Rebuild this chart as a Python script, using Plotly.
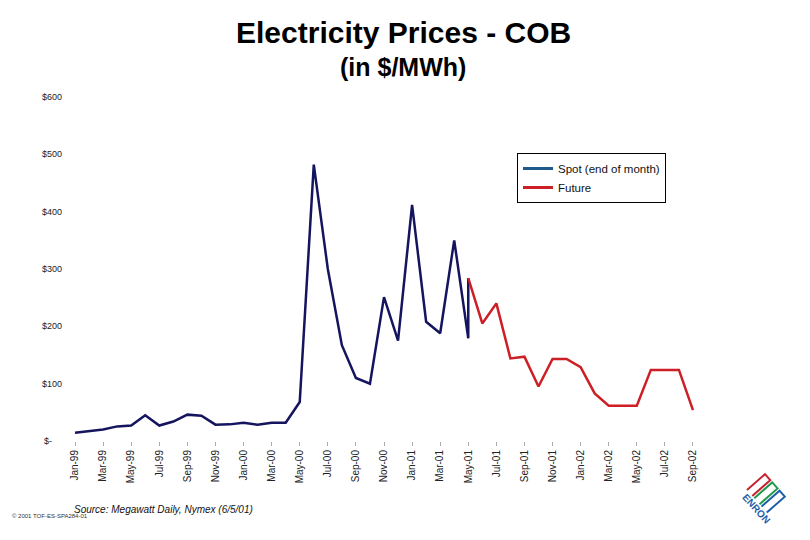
import plotly.graph_objects as go

# ---------------- data ----------------
months = ["Jan-99","Feb-99","Mar-99","Apr-99","May-99","Jun-99","Jul-99","Aug-99","Sep-99","Oct-99","Nov-99","Dec-99",
          "Jan-00","Feb-00","Mar-00","Apr-00","May-00","Jun-00","Jul-00","Aug-00","Sep-00","Oct-00","Nov-00","Dec-00",
          "Jan-01","Feb-01","Mar-01","Apr-01","May-01","Jun-01","Jul-01","Aug-01","Sep-01","Oct-01","Nov-01","Dec-01",
          "Jan-02","Feb-02","Mar-02","Apr-02","May-02","Jun-02","Jul-02","Aug-02","Sep-02"]

spot_months = months[:29] + ["May-01"]
spot_values = [14.5, 17, 20, 25.5, 27, 45, 27, 34, 46, 44, 28.5, 29,
               32, 28.5, 32, 32, 68, 482, 300, 167, 110, 100, 251, 175,
               412, 208, 188, 350, 179, 284]

future_months = months[28:]
future_values = [284, 205, 240, 144, 147, 95, 143, 143, 129, 83, 61.5, 61.5,
                 61.5, 124, 124, 124, 54]

y_tickvals = [0, 100, 200, 300, 400, 500, 600]
y_ticktext = ["$-\u00a0\u00a0\u00a0\u00a0", "$100", "$200", "$300", "$400", "$500", "$600"]
x_tickvals = months[::2]

SPOT_COLOR = "#14145f"
SPOT_LEGEND_COLOR = "#1f5a8c"
FUTURE_COLOR = "#cc1f26"
FONT = "Liberation Sans, Arial, sans-serif"

# ---------------- layout geometry ----------------
W, H = 810, 540
OFF = 8  # page body margin
# target plot area on the page: x 68..700, y 97..441
ML = 68 - OFF
MT = 97 - OFF
MR = W - (700 - OFF)
MB = H - (441 - OFF)
PW, PH = W - ML - MR, H - MT - MB

def px(x):
    return (x - OFF - ML) / PW

def py(y):
    return (H - MB - (y - OFF)) / PH

fig = go.Figure()

fig.add_trace(go.Scatter(x=spot_months, y=spot_values, mode="lines",
                         line=dict(color=SPOT_COLOR, width=2.5), showlegend=False,
                         hoverinfo="skip"))
fig.add_trace(go.Scatter(x=future_months, y=future_values, mode="lines",
                         line=dict(color=FUTURE_COLOR, width=2.5), showlegend=False,
                         hoverinfo="skip"))
# legend entries
fig.add_trace(go.Scatter(x=[None], y=[None], mode="lines", name="Spot (end of month)",
                         line=dict(color=SPOT_LEGEND_COLOR, width=3)))
fig.add_trace(go.Scatter(x=[None], y=[None], mode="lines", name="Future",
                         line=dict(color=FUTURE_COLOR, width=3)))

fig.update_layout(
    width=W, height=H,
    margin=dict(l=ML, r=MR, t=MT, b=MB, pad=0),
    paper_bgcolor="white", plot_bgcolor="white",
    font=dict(family=FONT, color="#111"),
    showlegend=True,
    legend=dict(x=px(517), y=py(153), xanchor="left", yanchor="top",
                bgcolor="white", bordercolor="black", borderwidth=1,
                font=dict(size=11.5, family=FONT, color="#111"),
                itemwidth=30, tracegroupgap=0),
    xaxis=dict(type="category", categoryorder="array", categoryarray=months,
               range=[-0.5, len(months) - 0.5],
               tickmode="array", tickvals=x_tickvals, ticktext=x_tickvals,
               tickangle=-90, tickfont=dict(size=10, family=FONT, color="#222"),
               ticks="outside", ticklen=4, tickcolor="#aaa",
               showgrid=False, showline=False, zeroline=False, fixedrange=True),
    yaxis=dict(range=[0, 600], tickmode="array", tickvals=y_tickvals, ticktext=y_ticktext,
               tickfont=dict(size=9, family=FONT, color="#222"),
               ticklabelstandoff=5,
               showgrid=False, showline=False, zeroline=False, fixedrange=True),
)

annotations = [
    dict(text="<b>Electricity Prices - COB</b>", x=px(404), y=py(32), xref="paper", yref="paper",
         showarrow=False, font=dict(size=30, family=FONT, color="black"), xanchor="center", yanchor="middle"),
    dict(text="<b>(in $/MWh)</b>", x=px(403), y=py(67), xref="paper", yref="paper",
         showarrow=False, font=dict(size=25, family=FONT, color="black"), xanchor="center", yanchor="middle"),
    dict(text="<i>Source: Megawatt Daily, Nymex (6/5/01)</i>", x=px(72), y=py(510), xref="paper", yref="paper",
         showarrow=False, font=dict(size=10, family=FONT, color="#111"), xanchor="left", yanchor="middle"),
    dict(text="© 2001 TOF-ES-SPA284-01", x=px(10), y=py(516), xref="paper", yref="paper",
         showarrow=False, font=dict(size=6, family=FONT, color="#333"), xanchor="left", yanchor="middle"),
    dict(text="<b>ENRON</b>", x=px(756), y=py(509), xref="paper", yref="paper",
         showarrow=False, textangle=48, font=dict(size=10, family=FONT, color="#1f5fa8"),
         xanchor="center", yanchor="middle"),
]
fig.update_layout(annotations=annotations)

# ENRON logo loops (decoration)
u = (0.75, -0.66)
v = (0.66, 0.75)
B = (747.0, 490.0)
Lh, wd, step = 24, 8, 11
shapes = []
for k, col in enumerate(["#c8202f", "#1f9a4a", "#1f5fa8"]):
    s = k * step
    p0 = (B[0] + v[0] * s, B[1] + v[1] * s)
    p1 = (p0[0] + u[0] * Lh, p0[1] + u[1] * Lh)
    p2 = (p1[0] + v[0] * wd, p1[1] + v[1] * wd)
    p3 = (p0[0] + v[0] * wd, p0[1] + v[1] * wd)
    path = "M {} {} L {} {} L {} {} L {} {}".format(px(p0[0]), py(p0[1]), px(p1[0]), py(p1[1]),
                                                   px(p2[0]), py(p2[1]), px(p3[0]), py(p3[1]))
    shapes.append(dict(type="path", path=path, xref="paper", yref="paper",
                       line=dict(color=col, width=2)))
fig.update_layout(shapes=shapes)

fig.write_html("out.html")
